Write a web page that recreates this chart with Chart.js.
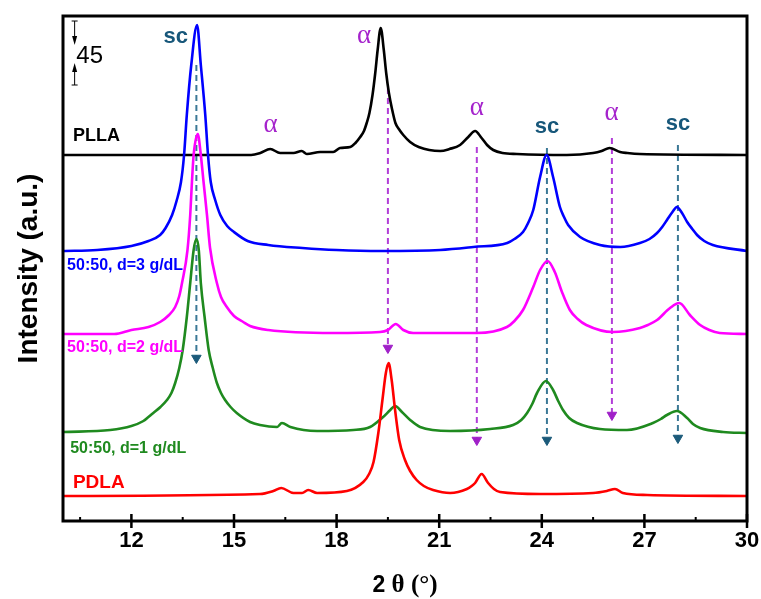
<!DOCTYPE html>
<html>
<head>
<meta charset="utf-8">
<title>XRD patterns PLLA / PDLA / 50:50</title>
<script src="https://cdn.jsdelivr.net/npm/chart.js@4.4.1/dist/chart.umd.min.js"></script>
<style>
  html, body { margin: 0; padding: 0; background: #fff; }
  #wrap { width: 761px; height: 599px; }
</style>
</head>
<body>
<div id="wrap"><canvas id="xrd" width="761" height="599"></canvas></div>
<script>
// 2 theta axis
const xTicks = [12, 15, 18, 21, 24, 27, 30];
const xMinorTicks = [10.5, 13.5, 16.5, 19.5, 22.5, 25.5, 28.5];

// curves (intensity in a.u., already stacked)
const pllaTheta = [10, 15.5, 15.77, 16.06, 16.35, 16.74, 16.98, 17.13, 17.52, 17.9, 18.1, 18.4, 18.55, 18.69, 18.8, 18.88, 18.96, 19.05, 19.13, 19.2, 19.29, 19.38, 19.45, 19.53, 19.62, 19.72, 19.82, 19.95, 20.15, 20.4, 21.03, 21.3, 21.61, 21.85, 22.05, 22.24, 22.4, 22.58, 22.85, 23.27, 24.73, 25.5, 25.75, 25.98, 26.29, 26.5, 26.87, 30];
const pllaI = [366, 366, 368, 372, 368, 368, 370, 367, 369, 369, 373, 374, 378, 384, 390, 398, 408, 426, 448, 471, 493, 471, 448, 428, 412, 398, 392, 386, 379, 374, 370, 372, 376, 384, 390, 383, 376, 371, 368, 367, 366, 368, 370, 373, 369, 368, 367, 366];

const d3Theta = [10, 11, 12, 12.5, 12.84, 13.0, 13.19, 13.32, 13.45, 13.54, 13.62, 13.75, 13.92, 14.03, 14.16, 14.24, 14.32, 14.45, 14.6, 14.8, 15.0, 15.4, 16.0, 17.0, 18.0, 19.3, 21.03, 22.0, 22.99, 23.2, 23.45, 23.6, 23.75, 23.95, 24.14, 24.33, 24.53, 24.65, 24.77, 25.12, 25.7, 26.3, 26.87, 27.15, 27.37, 27.52, 27.66, 27.82, 27.95, 28.1, 28.25, 28.4, 28.54, 28.75, 29.0, 30];
const d3I = [270, 271, 275, 280, 286, 293, 306, 320, 339, 366, 406, 456, 496, 456, 406, 366, 339, 321, 306, 295, 289, 280, 276, 273, 271, 270, 271, 274, 278, 282, 289, 298, 311, 344, 366, 344, 314, 304, 296, 284, 276, 274, 278, 282, 288, 294, 301, 309, 314, 308, 299, 292, 286, 280, 276, 270];

const d2Theta = [10, 11.5, 12.0, 12.5, 12.84, 13.1, 13.28, 13.4, 13.48, 13.64, 13.72, 13.77, 13.82, 13.94, 14.03, 14.11, 14.21, 14.3, 14.5, 14.62, 14.79, 15.0, 15.27, 15.47, 16.0, 17.9, 19.27, 19.5, 19.73, 19.95, 20.24, 22.1, 22.98, 23.2, 23.45, 23.75, 23.95, 24.17, 24.38, 24.59, 24.82, 25.05, 25.3, 26.08, 26.87, 27.1, 27.37, 27.75, 28.02, 28.33, 28.63, 28.9, 29.2, 30];
const d2I = [187, 187, 191, 194, 199, 206, 214, 225, 238, 271, 306, 339, 366, 387, 366, 339, 306, 273, 238, 224, 214, 205, 199, 195, 191, 188, 189, 191, 197, 191, 188, 188, 194, 200, 211, 234, 251, 260, 249, 229, 211, 202, 196, 189, 193, 196, 201, 213, 218, 206, 196, 191, 188, 187];

const d1Theta = [10, 11.38, 12.0, 12.35, 12.64, 12.85, 13.04, 13.17, 13.28, 13.4, 13.5, 13.62, 13.72, 13.82, 13.9, 13.97, 14.03, 14.14, 14.26, 14.38, 14.5, 14.62, 14.74, 14.9, 15.08, 15.47, 15.76, 16.26, 16.4, 16.65, 17.43, 18.49, 18.98, 19.36, 19.57, 19.71, 19.91, 20.15, 20.44, 21.32, 22.49, 23.16, 23.4, 23.57, 23.72, 23.86, 24.12, 24.33, 24.48, 24.62, 24.8, 25.03, 25.7, 26.49, 27.25, 27.48, 27.66, 27.95, 28.25, 28.42, 28.63, 29.3, 30];
const d1I = [89, 91, 95, 100, 108, 114, 121, 128, 138, 153, 171, 204, 238, 271, 282, 271, 238, 204, 171, 153, 138, 128, 121, 114, 108, 99, 96, 94, 98, 94, 90, 91, 94, 104, 111, 115, 109, 101, 94, 90, 92, 96, 101, 108, 117, 128, 140, 131, 120, 111, 103, 98, 92, 91, 98, 102, 106, 110, 103, 97, 93, 89, 88];

const pdlaTheta = [10, 15.76, 16.15, 16.38, 16.74, 16.99, 17.17, 17.43, 18.3, 18.78, 18.95, 19.08, 19.22, 19.34, 19.44, 19.52, 19.61, 19.71, 19.83, 20.0, 20.15, 20.34, 20.55, 20.82, 21.32, 21.81, 21.95, 22.05, 22.24, 22.43, 22.6, 22.78, 23.95, 25.5, 25.9, 26.14, 26.37, 27.08, 30];
const pdlaI = [25, 27, 30, 33, 28, 28, 31, 28, 30, 39, 47, 59, 88, 121, 148, 158, 141, 111, 81, 61, 50, 41, 35, 31, 28, 32, 35, 38, 47, 38, 32, 29, 27, 28, 30, 32, 28, 26, 25];

// dashed reflection markers: position, start and arrow end
const markerKind = ['sc', 'α', 'α', 'sc', 'α', 'sc'];
const markerTheta = [13.9, 19.5, 22.1, 24.15, 26.05, 27.98];
const markerFrom = [456, 433, 374, 373, 383, 376];
const markerTo = [163, 173, 81, 81, 106, 83];

// peak labels
const peakText = ['sc', 'α', 'α', 'α', 'sc', 'α', 'sc'];
const peakTheta = [13.3, 18.8, 16.07, 22.1, 24.15, 26.04, 27.98];
const peakI = [478, 478, 389, 406, 388, 401, 391];

// sample names
const sampleNames = ['PLLA', '50:50, d=3 g/dL', '50:50, d=2 g/dL', '50:50, d=1 g/dL', 'PDLA'];
const sampleTheta = [10.29, 10.12, 10.12, 10.21, 10.29];
const sampleI = [380, 251, 169, 68, 33];

// intensity scale bar
const scaleBarLabel = '45';
const scaleBarTheta = 10.34;
const scaleBarI = [500, 476, 458, 436];

const SC_LINE = '#3b7896', SC_HEAD = '#1b5a7a', SC_TEXT = '#17577a';
const A_LINE = '#b23ed8', A_HEAD = '#a020c8', A_TEXT = '#a523cc';
const SANS = "'Liberation Sans', Arial, sans-serif";
const SERIF = "'Liberation Serif', 'Times New Roman', serif";

function pts(th, vals) {
    return th.map((t, i) => ({ x: t, y: vals[i] }));
}

function curve(label, th, vals, color) {
    return {
        label: label,
        data: pts(th, vals),
        borderColor: color,
        borderWidth: 2.6,
        pointRadius: 0,
        fill: false,
        cubicInterpolationMode: 'monotone'
    };
}

const datasets = [
    curve('PDLA', pdlaTheta, pdlaI, '#ff0000'),
    curve('50:50, d=1 g/dL', d1Theta, d1I, '#1f8a1f'),
    curve('50:50, d=2 g/dL', d2Theta, d2I, '#ff00ff'),
    curve('50:50, d=3 g/dL', d3Theta, d3I, '#0000ff'),
    curve('PLLA', pllaTheta, pllaI, '#000000')
];

// arrows drawn as two point lines, the end point is a down triangle
markerTheta.forEach((t, i) => {
    const sc = markerKind[i] === 'sc';
    datasets.push({
        label: 'marker' + i,
        data: [{ x: t, y: markerFrom[i] }, { x: t, y: markerTo[i] }],
        borderColor: sc ? SC_LINE : A_LINE,
        borderWidth: 2,
        borderDash: [6, 4],
        pointRadius: [0, 5.5],
        pointStyle: 'triangle',
        rotation: 180,
        pointBackgroundColor: sc ? SC_HEAD : A_HEAD,
        pointBorderColor: sc ? SC_HEAD : A_HEAD,
        pointBorderWidth: 1,
        tension: 0
    });
});

function head(ctx, px, tip, dir, w, h) {
    ctx.beginPath();
    ctx.moveTo(px, tip);
    ctx.lineTo(px - w / 2, tip - dir * h);
    ctx.lineTo(px + w / 2, tip - dir * h);
    ctx.closePath();
    ctx.fill();
}

const decor = {
    id: 'decor',
    afterDraw(chart) {
        const { ctx, chartArea: a, scales: { x, y } } = chart;
        ctx.save();

        // frame
        ctx.strokeStyle = '#000';
        ctx.lineWidth = 3;
        ctx.strokeRect(a.left, a.top, a.right - a.left, a.bottom - a.top);

        // ticks on the bottom axis
        ctx.lineWidth = 2.5;
        ctx.beginPath();
        xTicks.forEach(v => {
            const px = x.getPixelForValue(v);
            ctx.moveTo(px, a.bottom - 7);
            ctx.lineTo(px, a.bottom + 7);
        });
        ctx.stroke();
        ctx.lineWidth = 2;
        ctx.beginPath();
        xMinorTicks.forEach(v => {
            const px = x.getPixelForValue(v);
            ctx.moveTo(px, a.bottom - 4);
            ctx.lineTo(px, a.bottom);
        });
        ctx.stroke();

        // peak labels
        ctx.textAlign = 'center';
        ctx.textBaseline = 'alphabetic';
        peakText.forEach((t, i) => {
            if (t === 'sc') {
                ctx.font = 'bold 22px ' + SANS;
                ctx.fillStyle = SC_TEXT;
            } else {
                ctx.font = '27px ' + SERIF;
                ctx.fillStyle = A_TEXT;
            }
            ctx.fillText(t, x.getPixelForValue(peakTheta[i]), y.getPixelForValue(peakI[i]));
        });

        // sample names
        const nameColors = ['#000000', '#0000ff', '#ff00ff', '#1f8a1f', '#ff0000'];
        const nameSizes = [18, 16, 16, 16, 19];
        ctx.textAlign = 'left';
        sampleNames.forEach((n, i) => {
            ctx.font = 'bold ' + nameSizes[i] + 'px ' + SANS;
            ctx.fillStyle = nameColors[i];
            ctx.fillText(n, x.getPixelForValue(sampleTheta[i]), y.getPixelForValue(sampleI[i]));
        });

        // scale bar
        const bx = x.getPixelForValue(scaleBarTheta);
        const [yTop, yTipDown, yTipUp, yBot] = scaleBarI.map(v => y.getPixelForValue(v));
        ctx.strokeStyle = '#000';
        ctx.fillStyle = '#000';
        ctx.lineWidth = 1;
        ctx.beginPath();
        ctx.moveTo(bx - 3, yTop); ctx.lineTo(bx + 3, yTop);
        ctx.moveTo(bx, yTop); ctx.lineTo(bx, yTipDown - 6);
        ctx.moveTo(bx, yTipUp + 6); ctx.lineTo(bx, yBot);
        ctx.moveTo(bx - 3, yBot); ctx.lineTo(bx + 3, yBot);
        ctx.stroke();
        head(ctx, bx, yTipDown, 1, 5, 9);
        head(ctx, bx, yTipUp, -1, 5, 9);
        ctx.font = '24px ' + SANS;
        ctx.fillText(scaleBarLabel, x.getPixelForValue(10.39), (yTipDown + yTipUp) / 2 + 9);

        // x axis title: "2" sans bold, theta part serif
        const cx = (a.left + a.right) / 2;
        const base = 592;
        const p1 = '2 ', p2 = 'θ (°)';
        ctx.font = 'bold 23px ' + SANS;
        const w1 = ctx.measureText(p1).width;
        ctx.font = 'bold 25px ' + SERIF;
        const w2 = ctx.measureText(p2).width;
        const sx = cx - (w1 + w2) / 2;
        ctx.fillStyle = '#000';
        ctx.font = 'bold 23px ' + SANS;
        ctx.fillText(p1, sx, base);
        ctx.font = 'bold 25px ' + SERIF;
        ctx.fillText(p2, sx + w1, base);

        ctx.restore();
    }
};

new Chart(document.getElementById('xrd'), {
    type: 'line',
    data: { datasets: datasets },
    options: {
        responsive: false,
        animation: false,
        events: [],
        layout: { padding: { top: 16, right: 14, left: 0, bottom: 0 } },
        plugins: {
            legend: { display: false },
            tooltip: { enabled: false }
        },
        scales: {
            x: {
                type: 'linear',
                min: 10,
                max: 30,
                grid: { display: false, drawTicks: false },
                border: { display: false },
                afterBuildTicks: scale => {
                    scale.ticks = xTicks.map(v => ({ value: v }));
                },
                afterFit: scale => {
                    scale.height = 78;
                    scale.paddingLeft = 0;
                    scale.paddingRight = 0;
                },
                ticks: {
                    color: '#000',
                    padding: 7,
                    maxRotation: 0,
                    font: { family: SANS, size: 22, weight: 'bold' }
                }
            },
            y: {
                type: 'linear',
                min: 0,
                max: 505,
                grid: { display: false, drawTicks: false },
                border: { display: false },
                ticks: { display: false },
                afterFit: scale => { scale.width = 63; },
                title: {
                    display: true,
                    text: 'Intensity (a.u.)',
                    color: '#000',
                    padding: { top: 12, bottom: 0 },
                    font: { family: SANS, size: 28, weight: 'bold' }
                }
            }
        }
    },
    plugins: [decor]
});
</script>
</body>
</html>
